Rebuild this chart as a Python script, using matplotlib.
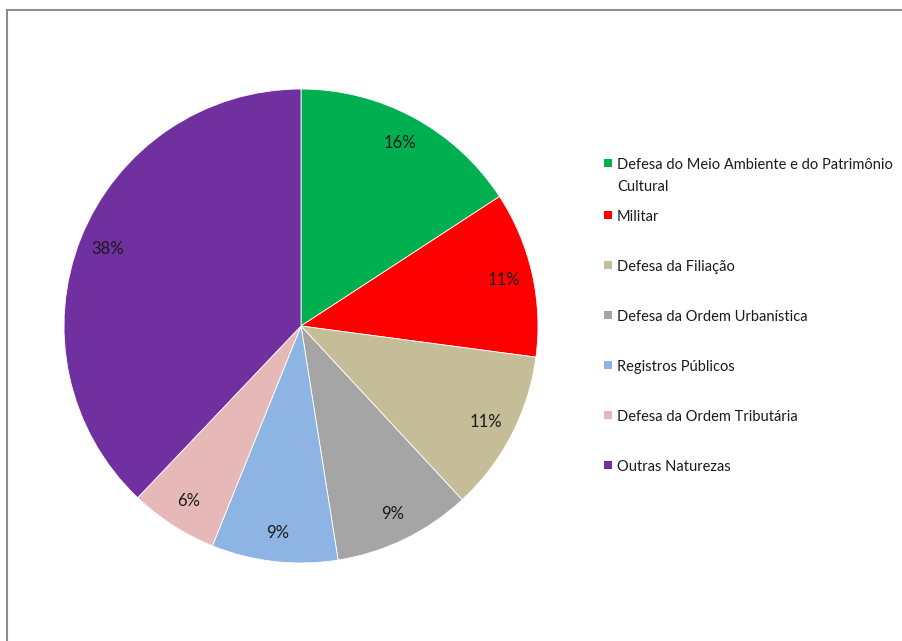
import matplotlib
matplotlib.use("Agg")
import matplotlib.pyplot as plt
from matplotlib.patches import Rectangle
from matplotlib.lines import Line2D

categories = [
    "Defesa do Meio Ambiente e do Patrimônio\nCultural",
    "Militar",
    "Defesa da Filiação",
    "Defesa da Ordem Urbanística",
    "Registros Públicos",
    "Defesa da Ordem Tributária",
    "Outras Naturezas",
]
values = [15.8, 11.3, 11.0, 9.4, 8.6, 6.0, 37.9]
colors = ["#00B050", "#FF0000", "#C4BD97", "#A5A5A5", "#8DB4E2", "#E6B9B8", "#7030A0"]

W, H = 902, 641
fig = plt.figure(figsize=(W / 100, H / 100), dpi=100)
plt.rcParams['font.family'] = ['Lato', 'DejaVu Sans']

# outer border (left and top edges only visible)
bx, by = 7.5 / W, 1 - 9.5 / H
fig.add_artist(Line2D([bx, bx], [-0.01, by], transform=fig.transFigure,
                      color="#8C8C8C", linewidth=1.5))
fig.add_artist(Line2D([bx, 1.01], [by, by], transform=fig.transFigure,
                      color="#8C8C8C", linewidth=1.5))

ax = fig.add_axes([64 / W, (H - 563) / H, 474 / W, 474 / H])
ax.pie(values, colors=colors, startangle=90, counterclock=False,
       autopct=lambda p: f"{p:.0f}%", pctdistance=0.88,
       textprops=dict(fontsize=12, color="#1a1a1a"),
       wedgeprops=dict(edgecolor="white", linewidth=0.6))
ax.set_xlim(-1, 1)
ax.set_ylim(-1, 1)
ax.set_aspect("equal")
ax.axis("off")

# legend (manual)
ys = [163, 215, 265, 315, 365, 415, 465]
for cat, col, y in zip(categories, colors, ys):
    fig.patches.append(Rectangle((604 / W, (H - y - 4) / H), 8 / W, 8 / H,
                                 transform=fig.transFigure, facecolor=col,
                                 edgecolor="none"))
    fig.text(617 / W, (H - y + 5) / H, cat, fontsize=10.5, color="#1a1a1a",
             va="top", ha="left", linespacing=1.72)

fig.savefig("out.png", dpi=100)
